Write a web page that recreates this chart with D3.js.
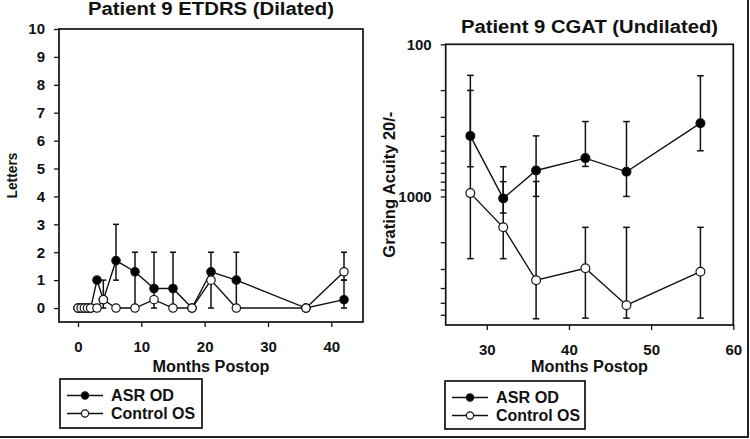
<!DOCTYPE html>
<html><head><meta charset="utf-8">
<script src="https://cdn.jsdelivr.net/npm/d3@7"></script>
<style>body{margin:0;background:#fff}svg{display:block;font-family:"Liberation Sans",Arial,sans-serif}</style>
</head><body><svg id="c" width="750" height="439"></svg>
<script>
// ---- ETDRS (left) ----
const etdrsMonths = [0, 0.5, 1, 1.5, 2, 3, 4, 6, 9, 12, 15, 18, 21, 25, 36, 42];
const etdrsASR    = [0, 0, 0, 0, 0, 1, 0.3, 1.7, 1.3, 0.7, 0.7, 0, 1.3, 1.0, 0, 0.3];
const etdrsCtrl   = [0, 0, 0, 0, 0, 0, 0.3, 0, 0, 0.3, 0, 0, 1.0, 0, 0, 1.3];
const etdrsASRErrMonths = [6, 9, 12, 15, 21, 25, 42];
const etdrsASRErrLow    = [1, 0, 0, 0, 0, 0, 0];
const etdrsASRErrHigh   = [3, 2, 2, 2, 2, 2, 1];
const etdrsCtrlErrMonths = [4, 42];
const etdrsCtrlErrLow    = [0, 1];
const etdrsCtrlErrHigh   = [1, 2];
const etdrsYTicks = [0,1,2,3,4,5,6,7,8,9,10];
const etdrsXTicks = [0,10,20,30,40];

// ---- CGAT (right) ----
const cgatMonths = [28, 32, 36, 42, 47, 56];
const cgatASR      = [400, 1030, 675, 560, 689, 330];
const cgatASRTop   = [160, 800, 400, 322, 322, 161];
const cgatASRBot   = [638, 1285, 1000, 635, 1000, 501];
const cgatCtrl     = [951, 1596, 3556, 2965, 5190, 3126];
const cgatCtrlTop  = [201, 638, 798, 1596, 1596, 1596];
const cgatCtrlBot  = [2565, 2565, 6370, 6310, 6310, 6310];
const cgatYMajor = [100, 1000];
const cgatYMinor = [200,300,400,500,600,700,800,900,2000,3000,4000,5000,6000];
const cgatXTicks = [30,40,50,60];

const seriesNames = ["ASR OD", "Control OS"];

const svg = d3.select("#c");
const FONT = '"Liberation Sans",Arial,sans-serif';

function drawPanel(o) {
  const g = svg.append("g");
  const x = o.x, y = o.y;
  const [x0, x1] = x.range();
  const yB = Math.max(...y.range()), yT = Math.min(...y.range());
  g.append("rect").attr("x", x0).attr("y", yT).attr("width", x1 - x0).attr("height", yB - yT)
    .attr("fill", "none").attr("stroke", "#111").attr("stroke-width", 1.7);
  const ya = d3.axisLeft(y).tickValues(o.yTicks).tickSize(5).tickPadding(9).tickFormat(o.yFmt);
  const yg = g.append("g").attr("transform", `translate(${x0},0)`).call(ya);
  const xa = d3.axisBottom(x).tickValues(o.xTicks).tickSize(5).tickPadding(14).tickFormat(d3.format("d"));
  const xg = g.append("g").attr("transform", `translate(0,${yB})`).call(xa);
  if (o.yMinor) {
    g.append("g").attr("transform", `translate(${x0},0)`)
      .call(d3.axisLeft(y).tickValues(o.yMinor).tickSize(5).tickFormat(""))
      .call(s => s.select(".domain").remove())
      .selectAll("line").attr("stroke", "#111").attr("stroke-width", 1.3);
  }
  [yg, xg].forEach(a => {
    a.select(".domain").remove();
    a.selectAll("line").attr("stroke", "#111").attr("stroke-width", 1.3);
    a.selectAll("text").attr("font-family", FONT).attr("font-weight", "bold")
      .attr("font-size", 15).attr("fill", "#111");
  });
  g.append("text").attr("x", (x0 + x1) / 2).attr("y", o.titleY).attr("text-anchor", "middle")
    .attr("font-family", FONT).attr("font-weight", "bold").attr("font-size", 18).attr("fill", "#111")
    .attr("textLength", o.titleLen).attr("lengthAdjust", "spacingAndGlyphs").text(o.title);
  g.append("text").attr("x", (x0 + x1) / 2).attr("y", o.xLabelY).attr("text-anchor", "middle")
    .attr("font-family", FONT).attr("font-weight", "bold").attr("font-size", 16).attr("fill", "#111")
    .attr("textLength", 117).attr("lengthAdjust", "spacingAndGlyphs").text("Months Postop");
  g.append("text").attr("transform", `translate(${o.yLabelX},${(yB + yT) / 2}) rotate(-90)`)
    .attr("text-anchor", "middle").attr("dy", "0.35em")
    .attr("font-family", FONT).attr("font-weight", "bold").attr("font-size", o.yLabelSize).attr("fill", "#111")
    .attr("textLength", o.yLabelLen).attr("lengthAdjust", "spacingAndGlyphs").text(o.yLabel);

  const line = d3.line().x(d => x(d[0])).y(d => y(d[1]));
  const data = g.append("g");
  o.series.forEach(s => {
    s.err.forEach(e => {
      const cx = x(e[0]);
      data.append("line").attr("x1", cx).attr("x2", cx).attr("y1", y(e[1])).attr("y2", y(e[2]))
        .attr("stroke", "#111").attr("stroke-width", 1.5);
      [e[1], e[2]].forEach(v => data.append("line").attr("x1", cx - o.cap).attr("x2", cx + o.cap)
        .attr("y1", y(v)).attr("y2", y(v)).attr("stroke", "#111").attr("stroke-width", 1.5));
    });
  });
  o.series.forEach(s => {
    data.append("path").datum(s.pts).attr("d", line).attr("fill", "none")
      .attr("stroke", "#111").attr("stroke-width", 1.4);
    data.selectAll(null).data(s.pts).join("circle")
      .attr("cx", d => x(d[0])).attr("cy", d => y(d[1])).attr("r", o.r)
      .attr("fill", s.filled ? "#000" : "#fff").attr("stroke", "#111").attr("stroke-width", 1.2);
  });
  const L = o.legend;
  g.append("rect").attr("x", L.x).attr("y", L.y).attr("width", L.w).attr("height", L.h)
    .attr("fill", "#fff").attr("stroke", "#111").attr("stroke-width", 1.7);
  seriesNames.forEach((nm, i) => {
    const cy = L.y + 16.5 + i * 18;
    g.append("line").attr("x1", L.x + 7).attr("x2", L.x + 43).attr("y1", cy).attr("y2", cy)
      .attr("stroke", "#111").attr("stroke-width", 1.4);
    g.append("circle").attr("cx", L.x + 25).attr("cy", cy).attr("r", 3.6)
      .attr("fill", i === 0 ? "#000" : "#fff").attr("stroke", "#111").attr("stroke-width", 1.2);
    g.append("text").attr("x", L.x + 51).attr("y", cy).attr("dy", "0.36em")
      .attr("font-family", FONT).attr("font-weight", "bold").attr("font-size", 16).attr("fill", "#111")
      .attr("textLength", i === 0 ? 63 : 84).attr("lengthAdjust", "spacingAndGlyphs").text(nm);
  });
}

const xL = d3.scaleLinear().domain([-3, 45]).range([59, 363]);
const yL = d3.scaleLinear().domain([-0.5, 10]).range([322, 29]);
drawPanel({
  x: xL, y: yL, yTicks: etdrsYTicks, xTicks: etdrsXTicks, yFmt: d3.format("d"),
  title: "Patient 9 ETDRS (Dilated)", titleY: 15, titleLen: 246,
  xLabelY: 372, yLabel: "Letters", yLabelX: 12, yLabelSize: 15, yLabelLen: 46,
  r: 4.2, cap: 3,
  series: [
    { filled: true, pts: etdrsMonths.map((m, i) => [m, etdrsASR[i]]),
      err: etdrsASRErrMonths.map((m, i) => [m, etdrsASRErrLow[i], etdrsASRErrHigh[i]]) },
    { filled: false, pts: etdrsMonths.map((m, i) => [m, etdrsCtrl[i]]),
      err: etdrsCtrlErrMonths.map((m, i) => [m, etdrsCtrlErrLow[i], etdrsCtrlErrHigh[i]]) }
  ],
  legend: { x: 60, y: 379, w: 142, h: 49 }
});

const xR = d3.scaleLinear().domain([25, 60]).range([445.7, 733.3]);
const yR = d3.scaleLog().domain([100, 7000]).range([44.3, 325]);
drawPanel({
  x: xR, y: yR, yTicks: cgatYMajor, yMinor: cgatYMinor, xTicks: cgatXTicks, yFmt: d3.format("d"),
  title: "Patient 9 CGAT (Undilated)", titleY: 33, titleLen: 257,
  xLabelY: 372, yLabel: "Grating Acuity 20/-", yLabelX: 389, yLabelSize: 16, yLabelLen: 146,
  r: 4.4, cap: 3.3,
  series: [
    { filled: true, pts: cgatMonths.map((m, i) => [m, cgatASR[i]]),
      err: cgatMonths.map((m, i) => [m, cgatASRTop[i], cgatASRBot[i]]) },
    { filled: false, pts: cgatMonths.map((m, i) => [m, cgatCtrl[i]]),
      err: cgatMonths.map((m, i) => [m, cgatCtrlTop[i], cgatCtrlBot[i]]) }
  ],
  legend: { x: 445, y: 381, w: 140, h: 48 }
});

svg.append("line").attr("x1", 748).attr("x2", 748).attr("y1", 0).attr("y2", 437.5)
  .attr("stroke", "#222").attr("stroke-width", 2);
svg.append("line").attr("x1", 0).attr("x2", 749).attr("y1", 437).attr("y2", 437)
  .attr("stroke", "#222").attr("stroke-width", 2);
</script></body></html>
